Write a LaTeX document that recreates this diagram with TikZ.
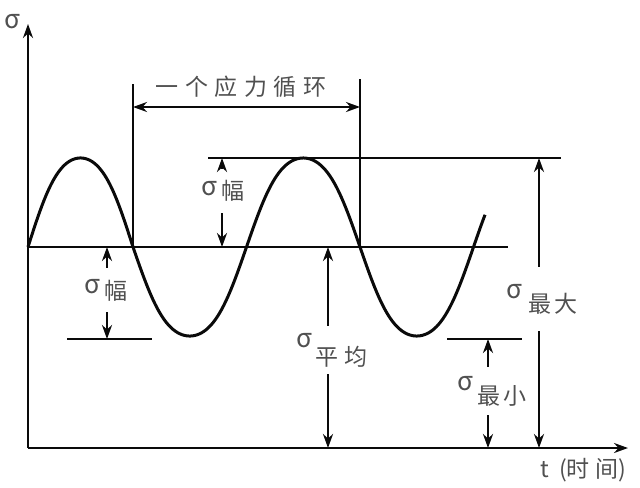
\documentclass[tikz,border=0pt]{standalone}
\usepackage{fontspec}
\newfontfamily\cjk{Noto Sans CJK SC}
\usetikzlibrary{arrows.meta}
\definecolor{Ink}{RGB}{10,10,10}
\definecolor{LabelGray}{RGB}{80,80,80}
\newcommand{\sigmark}{{\fontsize{13}{13}\selectfont σ}}

\tikzset{
  lbl/.style={font=\cjk\fontsize{11.5}{11.5}\selectfont, text=LabelGray, inner sep=2pt},
  dim/.style={->, line width=1.3pt},
  wave/.style={line width=1.5pt, line join=round}
}

\begin{document}
\begin{tikzpicture}[x=0.5pt,y=-0.5pt,>={Stealth[length=7pt,width=5pt]},line width=1.45pt,draw=Ink]
\useasboundingbox (0,0) rectangle (640,487);

% axes
\coordinate (O) at (28,448);
\coordinate (yEnd) at (28,24);
\coordinate (xEnd) at (628,448);
\draw[->] (O) -- (yEnd);
\draw[->] (O) -- (xEnd);
\node[lbl] (sigAxis) at (12,22) {\sigmark};
\node[lbl, anchor=west] (tAxis) at (535,470) {t\hspace{5pt}(时\hspace{3pt}间)};

% mean, peak and valley levels
\coordinate (meanL) at (28,247);
\coordinate (meanR) at (508,247);
\coordinate (topL) at (208,158);
\coordinate (topR) at (561,158);
\coordinate (lowL) at (67,339);
\coordinate (lowR) at (152,339);
\coordinate (minL) at (447,339);
\coordinate (minR) at (522,339);
\draw (meanL) -- (meanR);
\draw (topL) -- (topR);
\draw (lowL) -- (lowR);
\draw (minL) -- (minR);

% stress curve (slightly flattened sine)
\draw[wave] plot[domain=28:133,samples=60]
    (\x,{247-92.9*(sin((\x-28)/105*180)+sin((\x-28)/105*540)/24)})
  -- plot[domain=133:485,samples=160]
    (\x,{247+92.9*(sin((\x-133)/227*360)+sin((\x-133)/227*1080)/24)});

% one cycle
\coordinate (cycA) at (133,84);
\coordinate (cycAb) at (133,247);
\coordinate (cycB) at (360,79);
\coordinate (cycBb) at (360,247);
\draw (cycA) -- (cycAb);
\draw (cycB) -- (cycBb);
\coordinate (cycArrL) at (133,107);
\coordinate (cycArrR) at (360,107);
\draw[<->, line width=1.3pt] (cycArrL) -- (cycArrR);
\node[lbl] (cycle) at (241,87) {一\hspace{3.3pt}个\hspace{3.3pt}应\hspace{3.3pt}力\hspace{3.3pt}循\hspace{3.3pt}环};

% amplitude (upper)
\node[lbl, inner ysep=5pt] (ampU) at (223,191) {\sigmark\hspace{2pt}\raisebox{-2pt}{幅}};
\coordinate (ampUt) at (222,158);
\coordinate (ampUb) at (222,247);
\draw[dim] (ampU.north -| ampUt) -- (ampUt);
\draw[dim] (ampU.south -| ampUb) -- (ampUb);

% amplitude (lower)
\node[lbl, inner ysep=5pt] (ampD) at (106,290) {\sigmark\hspace{2pt}\raisebox{-3pt}{幅}};
\coordinate (ampDt) at (107,247);
\coordinate (ampDb) at (107,339);
\draw[dim] (ampD.north -| ampDt) -- (ampDt);
\draw[dim] (ampD.south -| ampDb) -- (ampDb);

% mean stress
\node[lbl, inner ysep=3pt] (mean) at (332,350) {\sigmark\hspace{2pt}\raisebox{-9pt}{平\hspace{3pt}均}};
\coordinate (meanT) at (328,247);
\coordinate (meanB) at (328,448);
\draw[dim] (mean.north -| meanT) -- (meanT);
\draw[dim] (mean.south -| meanB) -- (meanB);

% minimum stress
\node[lbl, inner ysep=4pt] (smin) at (492,391) {\sigmark\hspace{2pt}\raisebox{-7pt}{最\hspace{1.5pt}小}};
\coordinate (sminT) at (488,339);
\coordinate (sminB) at (488,448);
\draw[dim] (smin.north -| sminT) -- (sminT);
\draw[dim] (smin.south -| sminB) -- (sminB);

% maximum stress
\node[lbl, inner ysep=8pt] (smax) at (542,299) {\sigmark\hspace{3pt}\raisebox{-7pt}{最\hspace{1.5pt}大}};
\coordinate (smaxT) at (539,158);
\coordinate (smaxB) at (539,448);
\draw[dim] (smax.north -| smaxT) -- (smaxT);
\draw[dim] (smax.south -| smaxB) -- (smaxB);
\end{tikzpicture}
\end{document}
